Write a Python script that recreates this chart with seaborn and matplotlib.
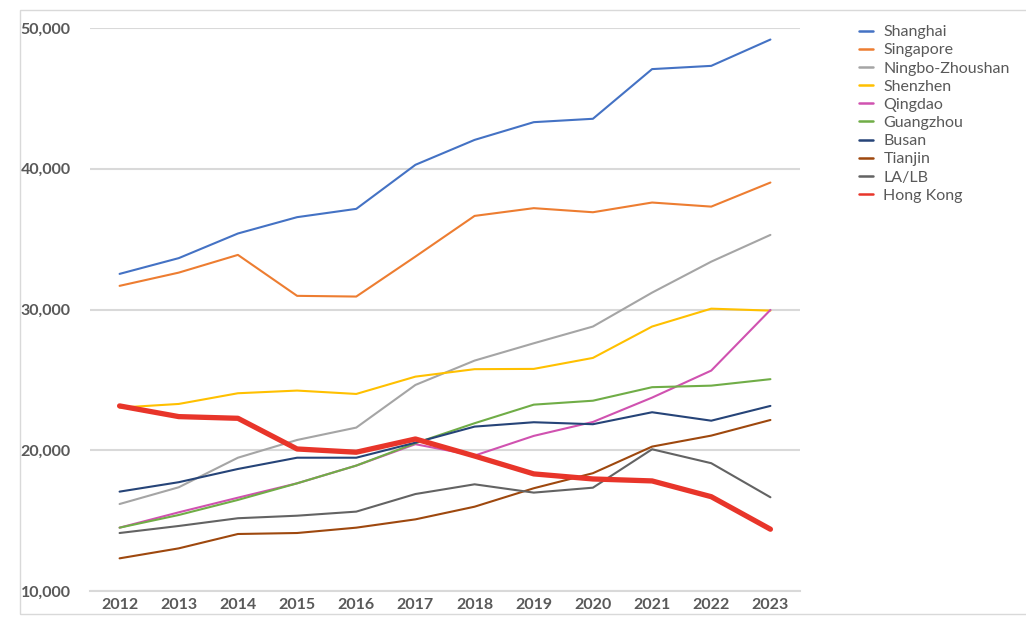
import matplotlib
matplotlib.use("Agg")
import matplotlib.pyplot as plt
import seaborn as sns
import pandas as pd
from matplotlib.patches import Rectangle
from matplotlib.ticker import FuncFormatter

years = list(range(2012, 2024))
ports = ["Shanghai", "Singapore", "Ningbo-Zhoushan", "Shenzhen", "Qingdao",
         "Guangzhou", "Busan", "Tianjin", "LA/LB", "Hong Kong"]

shanghai = [32530, 33650, 35400, 36560, 37150, 40280, 42050, 43310, 43550, 47080, 47310, 49180]
singapore = [31680, 32620, 33880, 30970, 30920, 33760, 36650, 37200, 36910, 37600, 37310, 39020]
ningbo = [16180, 17370, 19470, 20730, 21610, 24640, 26370, 27600, 28790, 31200, 33400, 35300]
shenzhen = [23030, 23290, 24050, 24240, 24000, 25230, 25760, 25780, 26560, 28790, 30060, 29920]
qingdao = [14500, 15590, 16630, 17650, 18910, 20430, 19620, 21020, 22010, 23740, 25660, 29970]
guangzhou = [14500, 15400, 16470, 17650, 18910, 20500, 21920, 23240, 23520, 24480, 24590, 25050]
busan = [17060, 17730, 18670, 19470, 19470, 20540, 21680, 21990, 21850, 22700, 22100, 23150]
tianjin = [12320, 13030, 14050, 14120, 14500, 15090, 15990, 17300, 18370, 20260, 21040, 22150]
lalb = [14120, 14620, 15170, 15350, 15640, 16890, 17580, 16990, 17340, 20070, 19080, 16660]
hongkong = [23150, 22390, 22270, 20090, 19860, 20800, 19590, 18320, 17960, 17820, 16700, 14390]

series = [shanghai, singapore, ningbo, shenzhen, qingdao,
          guangzhou, busan, tianjin, lalb, hongkong]
colors = ["#4472C4", "#ED7D31", "#A5A5A5", "#FFC000", "#D052B0",
          "#70AD47", "#264478", "#9E480E", "#636363", "#E8352A"]
widths = [1.5, 1.5, 1.5, 1.5, 1.5, 1.5, 1.5, 1.5, 1.5, 3.8]

rows = []
for p, vals in zip(ports, series):
    for y, v in zip(years, vals):
        rows.append({"Year": y, "Port": p, "TEU": v})
df = pd.DataFrame(rows)

sns.set_theme(style="white")
plt.rcParams["font.family"] = ["Lato", "DejaVu Sans"]

fig = plt.figure(figsize=(10.26, 6.37), dpi=100)
ax = fig.add_axes([90 / 1026, 46 / 637, 710 / 1026, 563 / 637])

for p, c, w in zip(ports, colors, widths):
    sub = df[df["Port"] == p]
    sns.lineplot(data=sub, x="Year", y="TEU", ax=ax, color=c, linewidth=w,
                 label=p, solid_capstyle="round", solid_joinstyle="round")

ax.set_xlim(2011.5, 2023.5)
ax.set_ylim(10000, 50000)
ax.set_yticks([10000, 20000, 30000, 40000, 50000])
ax.yaxis.set_major_formatter(FuncFormatter(lambda v, _: f"{int(v):,}"))
ax.set_xticks(years)
ax.set_xticklabels([str(y) for y in years])
ax.set_xlabel("")
ax.set_ylabel("")
ax.grid(axis="y", color="#D9D9D9", linewidth=1.5)
ax.grid(axis="x", visible=False)
for s in ["top", "right", "left"]:
    ax.spines[s].set_visible(False)
ax.spines["bottom"].set_color("#D9D9D9")
ax.spines["bottom"].set_linewidth(1.5)
ax.set_axisbelow(True)
ax.tick_params(axis="y", length=0, pad=14, labelsize=11.5, labelcolor="#595959")
ax.tick_params(axis="x", length=0, pad=5, labelsize=11.5, labelcolor="#595959")
for lab in ax.get_yticklabels() + ax.get_xticklabels():
    lab.set_fontweight("bold")

leg = ax.legend(loc="upper left", bbox_to_anchor=(859 / 1026, 1 - 25 / 637),
                bbox_transform=fig.transFigure, frameon=False,
                fontsize=11.5, handlelength=0.9, handletextpad=0.62,
                labelspacing=0.25, borderaxespad=0, borderpad=0)
for t in leg.get_texts():
    t.set_color("#595959")
for h in leg.get_lines():
    h.set_linewidth(1.8)

fig.patches.append(Rectangle((20 / 1026, 23 / 637), 1.1, 604 / 637,
                             transform=fig.transFigure, fill=False,
                             edgecolor="#D9D9D9", linewidth=1.0))

fig.savefig("out.png", dpi=100)
